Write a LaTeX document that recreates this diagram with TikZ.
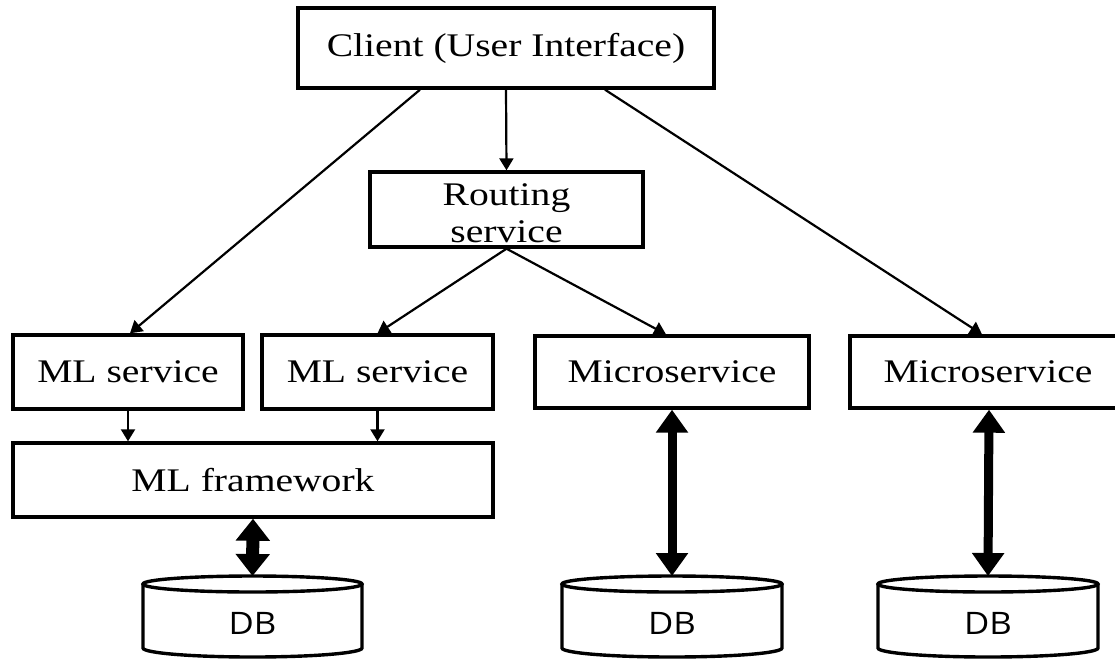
\documentclass[tikz,border=0pt]{standalone}
\usepackage{fontspec}
\setmainfont{Liberation Serif}[FakeStretch=1.2]
\newfontfamily\dbfont{Open Sans}[FakeStretch=1.12]
\usetikzlibrary{arrows.meta,calc}

\tikzset{
  x=1pt, y=-1pt,
  box/.style={draw, line width=3.4pt, inner sep=0pt, align=center,
    font=\fontsize{33}{37}\selectfont},
  boxtext/.style={inner sep=0pt, align=center, font=\fontsize{33}{37}\selectfont},
  link/.style={line width=2.2pt, -{Triangle[length=12pt,width=14pt]}},
  dblink/.style={line width=9pt,
    {Triangle[length=23pt,width=31pt]}-{Triangle[length=23pt,width=31pt]}},
  dbline/.style={line width=3.4pt},
  dblabel/.style={inner sep=0pt, font=\dbfont\fontsize{31}{34}\selectfont},
}

\newcommand{\dbcylinder}[3]{% centre x, half width, name
  \draw[dbline] (#1-#2,584) -- (#1-#2,648)
    arc[start angle=180, end angle=0, x radius=#2, y radius=9] -- (#1+#2,584);
  \draw[dbline] (#1,584) ellipse[x radius=#2, y radius=8];
  \coordinate (#3top) at (#1,576);
  \node[dblabel] (#3) at (#1,623) {DB};
}

\begin{document}
\begin{tikzpicture}
\useasboundingbox (0,0) rectangle (1115,659);

% boxes
\node[box, minimum width=416pt, minimum height=80pt] (client) at (506,48) {Client (User Interface)};
\node[box, minimum width=273pt, minimum height=75pt] (routing) at (506.5,209.5) {};
\node[boxtext] (routinglabel) at ([yshift=-4pt]routing.center) {Routing\\service};
\node[box, minimum width=230pt, minimum height=74pt] (ml1) at (128,372) {ML service};
\node[box, minimum width=231pt, minimum height=74pt] (ml2) at (377.5,372) {ML service};
\node[box, minimum width=480pt, minimum height=74pt] (mlf) at (253,480) {ML framework};
\node[box, minimum width=274pt, minimum height=72pt] (ms1) at (672,372) {Microservice};
\node[box, minimum width=276pt, minimum height=72pt] (ms2) at (988,372) {Microservice};

% databases
\dbcylinder{252.5}{109.5}{db1}
\dbcylinder{672}{110}{db2}
\dbcylinder{988}{110}{db3}

% request flow
\draw[link] (client.south) -- (routing.north);
\draw[link] ([xshift=-86pt]client.south) -- ([xshift=2pt]ml1.north);
\draw[link] ([xshift=99pt]client.south) -- ([xshift=-6pt]ms2.north);
\draw[link] (routing.south) -- (ml2.north);
\draw[link] (routing.south) -- ([xshift=-6pt]ms1.north);
\draw[link] (ml1.south) -- (ml1.south |- mlf.north);
\draw[link] (ml2.south) -- (ml2.south |- mlf.north);

% data access
\draw[line width=13pt, {Triangle[length=22pt,width=33pt]}-{Triangle[length=22pt,width=33pt]}]
  (mlf.south) -- (db1top);
\draw[dblink] (ms1.south) -- (db2top);
\draw[dblink] ([xshift=1pt]ms2.south) -- (db3top);
\end{tikzpicture}
\end{document}
